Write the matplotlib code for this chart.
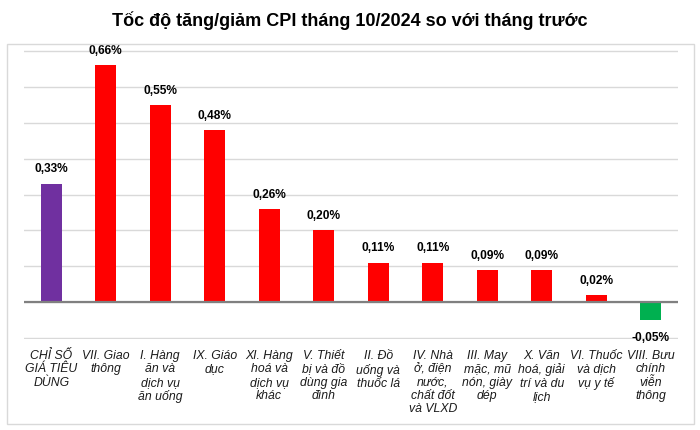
import matplotlib
matplotlib.use("Agg")
import matplotlib.pyplot as plt
from matplotlib.patches import Rectangle

categories = [
    "CHỈ SỐ\nGIÁ TIÊU\nDÙNG", "VII. Giao\nthông", "I. Hàng\năn và\ndịch vụ\năn uống",
    "IX. Giáo\ndục", "XI. Hàng\nhoá và\ndịch vụ\nkhác", "V. Thiết\nbị và đồ\ndùng gia\nđình",
    "II. Đồ\nuống và\nthuốc lá", "IV. Nhà\nở, điện\nnước,\nchất đốt\nvà VLXD",
    "III. May\nmặc, mũ\nnón, giày\ndép", "X. Văn\nhoá, giải\ntrí và du\nlịch",
    "VI. Thuốc\nvà dịch\nvụ y tế", "VIII. Bưu\nchính\nviễn\nthông",
]
values = [0.33, 0.66, 0.55, 0.48, 0.26, 0.20, 0.11, 0.11, 0.09, 0.09, 0.02, -0.05]
title = "Tốc độ tăng/giảm CPI tháng 10/2024 so với tháng trước"

def color_for(i, v):
    if i == 0:
        return "#7030A0"
    return "#FF0000" if v >= 0 else "#00B050"

plt.rcParams['font.family'] = ['Liberation Sans', 'DejaVu Sans']
fig = plt.figure(figsize=(7, 4.31), dpi=100)
fig.patch.set_facecolor("white")

# outer chart border
fig.patches.append(Rectangle((7/700, 1-425/431), (694-7)/700, (425-45)/431,
                             transform=fig.transFigure, fill=False,
                             edgecolor="#D9D9D9", linewidth=1.0))

ax = fig.add_axes([24/700, 1-340/431, 654/700, (340-51)/431])
x = list(range(len(values)))
colors = [color_for(i, v) for i, v in enumerate(values)]
ax.bar(x, values, width=0.39, color=colors, zorder=3)
ax.set_xlim(-0.5, len(values)-0.5)
ax.set_ylim(-0.103, 0.703)
ax.set_yticks([i/10 for i in range(-1, 8)])
ax.yaxis.grid(True, color="#D9D9D9", linewidth=1.0, zorder=0)
ax.axhline(0, color="#808080", linewidth=1.6, zorder=4)
for s in ax.spines.values():
    s.set_visible(False)
ax.tick_params(left=False, bottom=False, labelleft=False, labelbottom=False)

for xi, v in zip(x, values):
    lbl = f"{v:.2f}".replace(".", ",") + "%"
    off = 11 if v >= 0 else -12
    ax.annotate(lbl, (xi, v), xytext=(0, off), textcoords="offset points",
                ha="center", va="center", fontsize=8.6, fontweight="bold",
                color="black", zorder=5)

for xi, c in zip(x, categories):
    ax.annotate(c, (xi, -0.1), xytext=(0, -8), textcoords="offset points",
                ha="center", va="top", fontsize=8.8, fontstyle="italic",
                linespacing=1.15, color="#1a1a1a", annotation_clip=False)

fig.text(0.5, 1-21/431, title, ha="center", va="center", fontsize=13,
         fontweight="bold", color="black")

fig.savefig("out.png", dpi=100, facecolor="white")
